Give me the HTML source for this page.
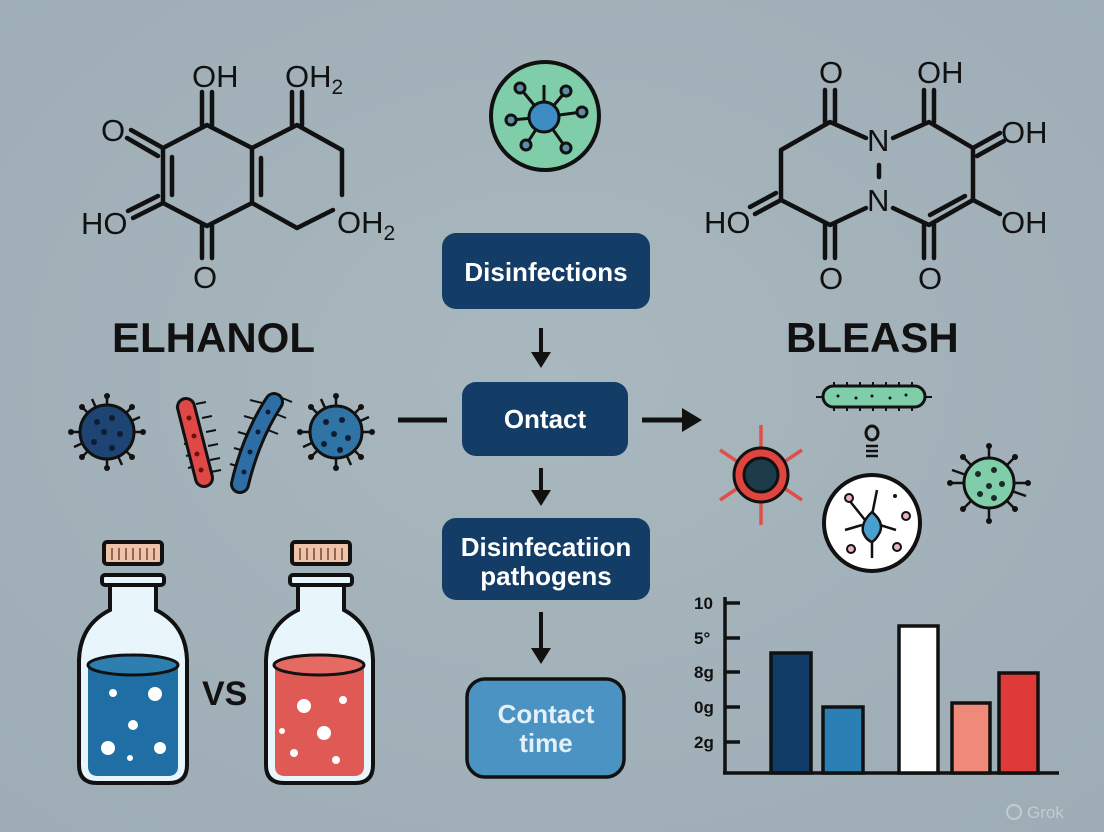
<!DOCTYPE html>
<html><head><meta charset="utf-8"><style>
html,body{margin:0;padding:0;}
body{width:1104px;height:832px;overflow:hidden;background:#a4b2ba;}
svg{display:block;}
text{font-family:"Liberation Sans","DejaVu Sans",sans-serif;}
</style></head><body>
<svg width="1104" height="832" viewBox="0 0 1104 832" xmlns="http://www.w3.org/2000/svg">
<defs>
<radialGradient id="bg" cx="50%" cy="45%" r="75%">
<stop offset="0" stop-color="#a9b7be"/><stop offset="1" stop-color="#9dacb5"/>
</radialGradient>
</defs>
<rect width="1104" height="832" fill="url(#bg)"/>

<!-- LEFT MOLECULE -->
<g stroke="#111" stroke-width="4.5" fill="none" stroke-linecap="round" stroke-linejoin="round">
<polyline points="207,125 252,148 252,203 207,226 163,203 163,148 207,125"/>
<line x1="172" y1="157" x2="172" y2="195"/>
<polyline points="252,148 297,125 342,150 342,195"/>
<polyline points="252,203 297,228 333,210"/>
<line x1="261" y1="158" x2="261" y2="195"/>
<line x1="202" y1="125" x2="202" y2="92"/><line x1="212" y1="125" x2="212" y2="92"/>
<line x1="292" y1="125" x2="292" y2="92"/><line x1="302" y1="125" x2="302" y2="92"/>
<line x1="202" y1="226" x2="202" y2="258"/><line x1="212" y1="226" x2="212" y2="258"/>
<line x1="163" y1="148" x2="131" y2="130"/><line x1="158" y1="156" x2="127" y2="138"/>
<line x1="163" y1="203" x2="133" y2="218"/><line x1="158" y1="196" x2="128" y2="211"/>
</g>
<g fill="#111" font-size="31">
<text x="192" y="87">OH</text>
<text x="285" y="87">OH<tspan font-size="21" dy="7">2</tspan></text>
<text x="101" y="141">O</text>
<text x="81" y="234">HO</text>
<text x="193" y="288">O</text>
<text x="337" y="233">OH<tspan font-size="21" dy="7">2</tspan></text>
</g>
<text x="112" y="352" font-size="42" font-weight="bold" fill="#111">ELHANOL</text>

<!-- RIGHT MOLECULE -->
<g stroke="#111" stroke-width="4.5" fill="none" stroke-linecap="round" stroke-linejoin="round">
<polyline points="866,138 830,122 781,150 781,200 830,225 866,208"/>
<polyline points="893,138 929,122 973,148 973,200 929,225 893,208"/>
<line x1="879" y1="165" x2="879" y2="177"/>
<line x1="930" y1="215" x2="965" y2="196"/>
<line x1="825" y1="122" x2="825" y2="90"/><line x1="835" y1="122" x2="835" y2="90"/>
<line x1="924" y1="122" x2="924" y2="90"/><line x1="934" y1="122" x2="934" y2="90"/>
<line x1="825" y1="225" x2="825" y2="258"/><line x1="835" y1="225" x2="835" y2="258"/>
<line x1="924" y1="225" x2="924" y2="258"/><line x1="934" y1="225" x2="934" y2="258"/>
<line x1="973" y1="148" x2="1000" y2="133"/><line x1="977" y1="156" x2="1004" y2="141"/>
<line x1="781" y1="200" x2="755" y2="214"/><line x1="776" y1="193" x2="750" y2="207"/>
<line x1="973" y1="200" x2="1000" y2="214"/>
</g>
<g fill="#111" font-size="31">
<text x="867" y="151">N</text>
<text x="867" y="211">N</text>
<text x="819" y="83">O</text>
<text x="917" y="83">OH</text>
<text x="1001" y="143">OH</text>
<text x="704" y="233">HO</text>
<text x="1001" y="233">OH</text>
<text x="819" y="289">O</text>
<text x="918" y="289">O</text>
</g>
<text x="786" y="352" font-size="42" font-weight="bold" fill="#111">BLEASH</text>

<!-- green circle icon -->
<circle cx="545" cy="116" r="54" fill="#7fcea9" stroke="#111" stroke-width="4"/>
<g stroke="#111" stroke-width="3">
<line x1="544" y1="117" x2="544" y2="85"/>
<line x1="544" y1="117" x2="520" y2="88"/>
<line x1="544" y1="117" x2="566" y2="91"/>
<line x1="544" y1="117" x2="582" y2="112"/>
<line x1="544" y1="117" x2="511" y2="120"/>
<line x1="544" y1="117" x2="526" y2="145"/>
<line x1="544" y1="117" x2="566" y2="148"/>
</g>
<g fill="#5b8fa3" stroke="#111" stroke-width="3">
<circle cx="520" cy="88" r="5"/><circle cx="566" cy="91" r="5"/><circle cx="582" cy="112" r="5"/>
<circle cx="511" cy="120" r="5"/><circle cx="526" cy="145" r="5"/><circle cx="566" cy="148" r="5"/>
</g>
<circle cx="544" cy="117" r="15" fill="#3d8dc4" stroke="#111" stroke-width="3"/>

<!-- FLOW -->
<rect x="442" y="233" width="208" height="76" rx="14" fill="#133c66"/>
<text x="546" y="281" font-size="26" font-weight="bold" fill="#fff" text-anchor="middle">Disinfections</text>
<g stroke="#111" stroke-width="4"><line x1="541" y1="328" x2="541" y2="358"/><line x1="541" y1="468" x2="541" y2="495"/><line x1="541" y1="612" x2="541" y2="652"/></g>
<g fill="#111">
<polygon points="531,352 551,352 541,368"/>
<polygon points="531,490 551,490 541,506"/>
<polygon points="531,648 551,648 541,664"/>
</g>
<rect x="462" y="382" width="166" height="74" rx="14" fill="#133c66"/>
<text x="545" y="428" font-size="26" font-weight="bold" fill="#fff" text-anchor="middle">Ontact</text>
<rect x="442" y="518" width="208" height="82" rx="14" fill="#133c66"/>
<text x="546" y="556" font-size="26" font-weight="bold" fill="#fff" text-anchor="middle">Disinfecatiion</text>
<text x="546" y="585" font-size="26" font-weight="bold" fill="#fff" text-anchor="middle">pathogens</text>
<rect x="467" y="679" width="157" height="98" rx="18" fill="#4b93c3" stroke="#111" stroke-width="3.5"/>
<text x="546" y="723" font-size="26" font-weight="bold" fill="#e3f0f8" text-anchor="middle">Contact</text>
<text x="546" y="752" font-size="26" font-weight="bold" fill="#e3f0f8" text-anchor="middle">time</text>
<line x1="398" y1="420" x2="447" y2="420" stroke="#111" stroke-width="5"/>
<line x1="642" y1="420" x2="685" y2="420" stroke="#111" stroke-width="5"/>
<polygon points="682,408 702,420 682,432" fill="#111"/>

<!-- LEFT MICROBES -->
<g stroke="#111" stroke-width="2.5">
<line x1="107" y1="432" x2="107" y2="396"/><line x1="107" y1="432" x2="107" y2="468"/>
<line x1="107" y1="432" x2="71" y2="432"/><line x1="107" y1="432" x2="143" y2="432"/>
<line x1="107" y1="432" x2="82" y2="407"/><line x1="107" y1="432" x2="132" y2="457"/>
<line x1="107" y1="432" x2="132" y2="407"/><line x1="107" y1="432" x2="82" y2="457"/>
<line x1="107" y1="432" x2="92" y2="399"/><line x1="107" y1="432" x2="122" y2="465"/>
<line x1="107" y1="432" x2="74" y2="447"/><line x1="107" y1="432" x2="140" y2="417"/>
<line x1="336" y1="432" x2="336" y2="396"/><line x1="336" y1="432" x2="336" y2="468"/>
<line x1="336" y1="432" x2="300" y2="432"/><line x1="336" y1="432" x2="372" y2="432"/>
<line x1="336" y1="432" x2="311" y2="407"/><line x1="336" y1="432" x2="361" y2="457"/>
<line x1="336" y1="432" x2="361" y2="407"/><line x1="336" y1="432" x2="311" y2="457"/>
<line x1="336" y1="432" x2="321" y2="399"/><line x1="336" y1="432" x2="351" y2="465"/>
<line x1="336" y1="432" x2="303" y2="447"/><line x1="336" y1="432" x2="369" y2="417"/>
</g>
<g fill="#111">
<circle cx="107" cy="396" r="3"/><circle cx="107" cy="468" r="3"/><circle cx="71" cy="432" r="3"/><circle cx="143" cy="432" r="3"/><circle cx="82" cy="407" r="3"/><circle cx="132" cy="457" r="3"/><circle cx="132" cy="407" r="3"/><circle cx="82" cy="457" r="3"/>
<circle cx="336" cy="396" r="3"/><circle cx="336" cy="468" r="3"/><circle cx="300" cy="432" r="3"/><circle cx="372" cy="432" r="3"/><circle cx="311" cy="407" r="3"/><circle cx="361" cy="457" r="3"/><circle cx="361" cy="407" r="3"/><circle cx="311" cy="457" r="3"/>
</g>
<circle cx="107" cy="432" r="27" fill="#1d4472" stroke="#111" stroke-width="3"/>
<g fill="#0e1d33"><circle cx="97" cy="422" r="3"/><circle cx="112" cy="418" r="3"/><circle cx="104" cy="432" r="3"/><circle cx="120" cy="434" r="3"/><circle cx="94" cy="442" r="3"/><circle cx="112" cy="448" r="3"/></g>
<circle cx="336" cy="432" r="26" fill="#3074a6" stroke="#111" stroke-width="3"/>
<g fill="#0e1d33"><circle cx="326" cy="422" r="3"/><circle cx="342" cy="420" r="3"/><circle cx="334" cy="434" r="3"/><circle cx="348" cy="438" r="3"/><circle cx="324" cy="444" r="3"/><circle cx="340" cy="450" r="3"/></g>
<g stroke="#111" stroke-width="2">
<line x1="176" y1="408" x2="190" y2="404"/><line x1="180" y1="420" x2="194" y2="416"/><line x1="182" y1="432" x2="198" y2="428"/><line x1="184" y1="444" x2="200" y2="440"/><line x1="186" y1="456" x2="202" y2="452"/><line x1="188" y1="468" x2="204" y2="464"/>
<line x1="196" y1="404" x2="206" y2="402"/><line x1="202" y1="418" x2="212" y2="416"/><line x1="206" y1="432" x2="216" y2="430"/><line x1="208" y1="446" x2="218" y2="444"/><line x1="210" y1="460" x2="220" y2="458"/><line x1="211" y1="472" x2="221" y2="470"/>
<line x1="250" y1="400" x2="266" y2="404"/><line x1="244" y1="416" x2="258" y2="420"/><line x1="238" y1="432" x2="252" y2="436"/><line x1="234" y1="448" x2="248" y2="452"/><line x1="230" y1="464" x2="244" y2="468"/>
<line x1="282" y1="398" x2="292" y2="402"/><line x1="276" y1="414" x2="286" y2="418"/><line x1="268" y1="430" x2="278" y2="434"/>
</g>
<line x1="186" y1="407" x2="204" y2="478" stroke="#111" stroke-width="20" stroke-linecap="round"/>
<line x1="186" y1="407" x2="204" y2="478" stroke="#e04848" stroke-width="14" stroke-linecap="round"/>
<g fill="#6b1111"><circle cx="189" cy="418" r="2.5"/><circle cx="194" cy="436" r="2.5"/><circle cx="197" cy="454" r="2.5"/><circle cx="201" cy="470" r="2.5"/></g>
<path d="M274,402 Q262,420 252,445 Q244,466 240,484" stroke="#111" stroke-width="20" fill="none" stroke-linecap="round"/>
<path d="M274,402 Q262,420 252,445 Q244,466 240,484" stroke="#2e6ea6" stroke-width="14" fill="none" stroke-linecap="round"/>
<g fill="#0e1d33"><circle cx="268" cy="412" r="2.5"/><circle cx="258" cy="432" r="2.5"/><circle cx="250" cy="452" r="2.5"/><circle cx="244" cy="472" r="2.5"/></g>

<!-- BOTTLES -->
<g stroke="#111" stroke-width="4">
<rect x="104" y="542" width="58" height="22" rx="3" fill="#f0c2a8"/>
<rect x="102" y="575" width="62" height="10" rx="3" fill="#e8f5fa"/>
<path d="M110,585 L110,610 Q80,625 79,660 L79,765 Q79,783 97,783 L169,783 Q187,783 187,765 L187,660 Q186,625 156,610 L156,585 Z" fill="#e8f5fa"/>
<rect x="292" y="542" width="58" height="22" rx="3" fill="#f0c2a8"/>
<rect x="290" y="575" width="62" height="10" rx="3" fill="#e8f5fa"/>
<path d="M298,585 L298,610 Q267,625 266,660 L266,765 Q266,783 284,783 L355,783 Q373,783 373,765 L373,660 Q372,625 344,610 L344,585 Z" fill="#e8f5fa"/>
</g>
<g stroke="#6a4a3a" stroke-width="1.5">
<line x1="112" y1="548" x2="112" y2="560"/><line x1="119" y1="548" x2="119" y2="560"/><line x1="126" y1="548" x2="126" y2="560"/><line x1="133" y1="548" x2="133" y2="560"/><line x1="140" y1="548" x2="140" y2="560"/><line x1="147" y1="548" x2="147" y2="560"/><line x1="154" y1="548" x2="154" y2="560"/>
<line x1="300" y1="548" x2="300" y2="560"/><line x1="307" y1="548" x2="307" y2="560"/><line x1="314" y1="548" x2="314" y2="560"/><line x1="321" y1="548" x2="321" y2="560"/><line x1="328" y1="548" x2="328" y2="560"/><line x1="335" y1="548" x2="335" y2="560"/><line x1="342" y1="548" x2="342" y2="560"/>
</g>
<path d="M88,665 L88,766 Q88,776 98,776 L168,776 Q178,776 178,766 L178,665 Z" fill="#1f6fa4"/>
<ellipse cx="133" cy="665" rx="45" ry="10" fill="#2e7eb0" stroke="#111" stroke-width="3"/>
<path d="M275,665 L275,766 Q275,776 285,776 L354,776 Q364,776 364,766 L364,665 Z" fill="#e05a55"/>
<ellipse cx="319" cy="665" rx="45" ry="10" fill="#e56a62" stroke="#111" stroke-width="3"/>
<g fill="#fff">
<circle cx="113" cy="693" r="4"/><circle cx="155" cy="694" r="7"/><circle cx="133" cy="725" r="5"/><circle cx="108" cy="748" r="7"/><circle cx="160" cy="748" r="6"/><circle cx="130" cy="758" r="3"/>
<circle cx="304" cy="706" r="7"/><circle cx="343" cy="700" r="4"/><circle cx="282" cy="731" r="3"/><circle cx="324" cy="733" r="7"/><circle cx="294" cy="753" r="4"/><circle cx="336" cy="760" r="4"/>
</g>
<text x="202" y="705" font-size="34" font-weight="bold" fill="#111">VS</text>

<!-- RIGHT MICROBES -->
<g stroke="#111" stroke-width="2">
<line x1="834" y1="382" x2="834" y2="411"/><line x1="847" y1="382" x2="847" y2="411"/><line x1="860" y1="382" x2="860" y2="411"/><line x1="873" y1="382" x2="873" y2="411"/><line x1="886" y1="382" x2="886" y2="411"/><line x1="899" y1="382" x2="899" y2="411"/><line x1="912" y1="382" x2="912" y2="411"/>
<line x1="816" y1="397" x2="932" y2="397"/>
</g>
<rect x="823" y="386" width="102" height="21" rx="10.5" fill="#7fcea9" stroke="#111" stroke-width="3"/>
<g fill="#111"><circle cx="838" cy="396" r="1.5"/><circle cx="856" cy="398" r="1.5"/><circle cx="872" cy="396" r="1.5"/><circle cx="890" cy="398" r="1.5"/><circle cx="906" cy="395" r="1.5"/></g>
<ellipse cx="872" cy="433" rx="6" ry="7" fill="none" stroke="#111" stroke-width="3"/>
<g stroke="#111" stroke-width="2.5"><line x1="866" y1="446" x2="878" y2="446"/><line x1="866" y1="451" x2="878" y2="451"/><line x1="866" y1="456" x2="878" y2="456"/></g>
<g stroke="#e0504a" stroke-width="3.5">
<line x1="761" y1="425" x2="761" y2="447"/><line x1="761" y1="503" x2="761" y2="525"/>
<line x1="720" y1="450" x2="738" y2="462"/><line x1="802" y1="450" x2="784" y2="462"/>
<line x1="720" y1="500" x2="738" y2="488"/><line x1="802" y1="500" x2="784" y2="488"/>
</g>
<circle cx="761" cy="475" r="27" fill="#e0443f" stroke="#111" stroke-width="3"/>
<circle cx="761" cy="475" r="17" fill="#1d3c4a" stroke="#111" stroke-width="3"/>
<circle cx="872" cy="523" r="48" fill="#fff" stroke="#111" stroke-width="4"/>
<g stroke="#111" stroke-width="2.5" fill="none">
<line x1="877" y1="490" x2="872" y2="515"/><line x1="872" y1="535" x2="872" y2="558"/>
<line x1="849" y1="500" x2="865" y2="520"/><line x1="845" y1="530" x2="862" y2="525"/><line x1="880" y1="525" x2="896" y2="530"/>
</g>
<path d="M872,512 Q884,522 880,532 Q876,540 872,542 Q866,540 863,532 Q861,522 872,512 Z" fill="#4aa0cc" stroke="#111" stroke-width="2.5"/>
<g fill="#e7b2c5" stroke="#111" stroke-width="2">
<circle cx="849" cy="498" r="4"/><circle cx="906" cy="516" r="4"/><circle cx="851" cy="549" r="4"/><circle cx="897" cy="547" r="4"/>
</g>
<circle cx="895" cy="496" r="2" fill="#111"/>
<g stroke="#111" stroke-width="2.5">
<line x1="989" y1="483" x2="989" y2="446"/><line x1="989" y1="483" x2="989" y2="521"/>
<line x1="989" y1="483" x2="950" y2="483"/><line x1="989" y1="483" x2="1028" y2="483"/>
<line x1="989" y1="483" x2="963" y2="457"/><line x1="989" y1="483" x2="1015" y2="509"/>
<line x1="989" y1="483" x2="1015" y2="457"/><line x1="989" y1="483" x2="963" y2="509"/>
<line x1="989" y1="483" x2="952" y2="470"/><line x1="989" y1="483" x2="1026" y2="496"/>
</g>
<g fill="#111"><circle cx="989" cy="446" r="3"/><circle cx="989" cy="521" r="3"/><circle cx="950" cy="483" r="3"/><circle cx="1028" cy="483" r="3"/><circle cx="963" cy="457" r="3"/><circle cx="1015" cy="509" r="3"/><circle cx="1015" cy="457" r="3"/><circle cx="963" cy="509" r="3"/></g>
<circle cx="989" cy="483" r="25" fill="#7fcea9" stroke="#111" stroke-width="3"/>
<g fill="#1a2b2a"><circle cx="978" cy="474" r="3"/><circle cx="994" cy="470" r="3"/><circle cx="989" cy="486" r="3"/><circle cx="1002" cy="484" r="3"/><circle cx="980" cy="494" r="3"/><circle cx="994" cy="498" r="3"/></g>

<!-- CHART -->
<g fill="#111" font-size="17" font-weight="bold">
<text x="694" y="609">10</text>
<text x="694" y="644">5°</text>
<text x="694" y="678">8g</text>
<text x="694" y="713">0g</text>
<text x="694" y="748">2g</text>
</g>
<g stroke="#111" stroke-width="3.5">
<line x1="725" y1="597" x2="725" y2="774"/>
<line x1="723" y1="773" x2="1059" y2="773"/>
<line x1="725" y1="603" x2="740" y2="603"/><line x1="725" y1="638" x2="740" y2="638"/><line x1="725" y1="672" x2="740" y2="672"/><line x1="725" y1="707" x2="740" y2="707"/><line x1="725" y1="742" x2="740" y2="742"/>
</g>
<g stroke="#111" stroke-width="3.5">
<rect x="771" y="653" width="40" height="120" fill="#123c68"/>
<rect x="823" y="707" width="40" height="66" fill="#2a80b5"/>
<rect x="899" y="626" width="39" height="147" fill="#ffffff"/>
<rect x="952" y="703" width="38" height="70" fill="#ef8a7a"/>
<rect x="999" y="673" width="39" height="100" fill="#df3a37"/>
</g>
<text x="1027" y="818" font-size="17" fill="#c2ccd1">Grok</text>
<circle cx="1014" cy="812" r="7" fill="none" stroke="#c2ccd1" stroke-width="2"/>
</svg>
</body></html>
